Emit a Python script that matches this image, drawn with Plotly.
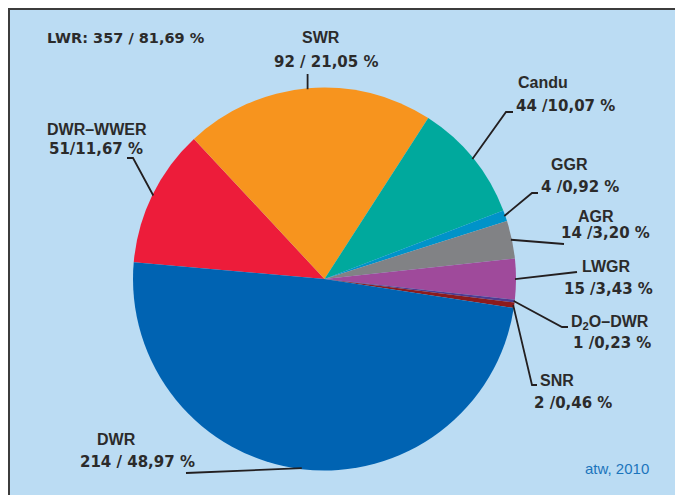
import math
import plotly.graph_objects as go

W, H = 683, 495
OFF = 8  # page margin of the browser around the figure

# ---- data ----
labels = ["DWR–WWER", "SWR", "Candu", "GGR", "AGR", "LWGR", "D<sub>2</sub>O–DWR", "SNR", "DWR"]
values = [51, 92, 44, 4, 14, 15, 1, 2, 214]
value_text = ["51/11,67 %", "92 / 21,05 %", "44 /10,07 %", "4 /0,92 %", "14 /3,20 %",
              "15 /3,43 %", "1 /0,23 %", "2 /0,46 %", "214 / 48,97 %"]
colors = ["#ed1c3a", "#f7941e", "#00a99d", "#0093c9", "#818285",
          "#9f4a9b", "#4d3b91", "#8c1b1d", "#0063b2"]
summary_text = "LWR: 357 / 81,69 %"
source_text = "atw, 2010"

# ---- geometry (screen pixels) ----
CX, CY, R = 324.5, 279.0, 191.5
ROT = -85.0  # start of first slice, degrees clockwise from 12 o'clock

def px(x):
    return (x - OFF) / W

def py(y):
    return 1 - (y - OFF) / H

fig = go.Figure(go.Pie(
    labels=labels, values=values, sort=False, direction="clockwise",
    rotation=ROT, textinfo="none", hoverinfo="label+value+percent",
    marker=dict(colors=colors, line=dict(width=0)),
    showlegend=False,
    domain=dict(x=[px(CX - R), px(CX + R)], y=[py(CY + R), py(CY - R)]),
))

# label layout: (name line pos, value line pos, leader-line path after the attach point)
layout_pos = [
    ((45, 129), (47, 149), [(133, 158), (127, 158)]),
    ((300, 38), (272, 62), None),  # vertical line to y=74
    ((516, 83), (514, 106), [(506, 112), (513, 112)]),
    ((549, 164), (539, 187), [(532, 193), (538, 193)]),
    ((576, 216), (559, 233), [(564, 244)]),
    ((580, 266), (562, 289), [(577, 272)]),
    ((569, 322), (571, 343), [(562, 327), (568, 327)]),
    ((538, 380), (532, 403), [(532, 385), (537, 385)]),
    ((95, 439), (78, 462), [(186, 473)]),
]

total = sum(values)
cum = 0.0
shapes = [
    dict(type="line", xref="paper", yref="paper", x0=0.0, x1=1.0, y0=py(9), y1=py(9),
         line=dict(color="#3c3c3c", width=2), layer="below"),
    dict(type="line", xref="paper", yref="paper", x0=px(9), x1=px(9), y0=0.0, y1=1.0,
         line=dict(color="#3c3c3c", width=2), layer="below"),
]
annotations = []
font_name = dict(family="Liberation Sans, Arial", size=16, color="#2b2b2b")
font_num = dict(family="DejaVu Sans", size=15, color="#2b2b2b")

for i, v in enumerate(values):
    mid = ROT + (cum + v / 2) / total * 360.0
    cum += v
    a = math.radians(mid)
    ax_ = CX + (R - 1) * math.sin(a)
    ay_ = CY - (R - 1) * math.cos(a)
    (nx, ny), (vx, vy), path = layout_pos[i]
    if path is None:
        path = [(ax_, 74)]
    pts = [(ax_, ay_)] + path
    d = "M " + " L ".join(f"{px(x):.5f},{py(y):.5f}" for x, y in pts)
    shapes.append(dict(type="path", xref="paper", yref="paper", path=d,
                       line=dict(color="#231f20", width=1.8), layer="above"))
    annotations.append(dict(x=px(nx), y=py(ny), xref="paper", yref="paper",
                            text=f"<b>{labels[i]}</b>", showarrow=False,
                            xanchor="left", yanchor="middle", font=font_name))
    annotations.append(dict(x=px(vx), y=py(vy), xref="paper", yref="paper",
                            text=f"<b>{value_text[i]}</b>", showarrow=False,
                            xanchor="left", yanchor="middle", font=font_num))

annotations.append(dict(x=px(45), y=py(38), xref="paper", yref="paper",
                        text=f"<b>{summary_text}</b>", showarrow=False,
                        xanchor="left", yanchor="middle",
                        font=dict(family="DejaVu Sans", size=14.5, color="#2b2b2b")))
annotations.append(dict(x=px(583), y=py(468), xref="paper", yref="paper",
                        text=source_text, showarrow=False,
                        xanchor="left", yanchor="middle",
                        font=dict(family="Liberation Sans Narrow, Arial", size=15,
                                  color="#1b75bc")))

fig.update_layout(
    width=W, height=H, margin=dict(l=0, r=0, t=0, b=0),
    paper_bgcolor="#bbdcf3", plot_bgcolor="#bbdcf3",
    shapes=shapes, annotations=annotations,
)

fig.write_html("out.html")
